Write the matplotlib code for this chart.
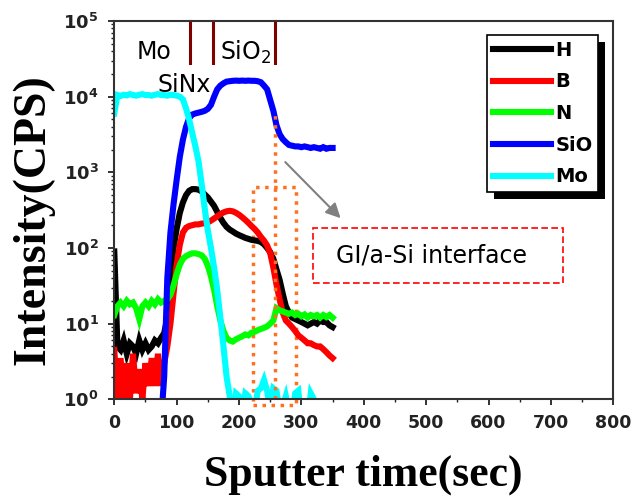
import numpy as np
import matplotlib
matplotlib.use('Agg')
import matplotlib.pyplot as plt
from matplotlib.patches import Rectangle
from matplotlib.ticker import MultipleLocator, NullFormatter
from matplotlib.transforms import IdentityTransform

## sputter time (sec)
t = [0, 5, 10, 15, 20, 25, 30, 35, 40, 45, 50, 55, 60, 65, 70, 75, 80, 85, 90, 95,
     100, 105, 110, 115, 120, 125, 130, 135, 140, 145, 150, 155, 160, 165, 170, 175,
     180, 185, 190, 195, 200, 205, 210, 215, 220, 225, 230, 235, 240, 245, 250, 255,
     260, 265, 270, 275, 280, 285, 290, 295, 300, 305, 310, 315, 320, 325, 330, 335,
     340, 345, 350]

nan = np.nan

## intensity (CPS) per species
H = [90, 5, 4.5, 6, 4, 5.5, 5, 4, 6, 4.5, 5.5, 4.5, 5, 6, 5.5, 6.5, 7.5, 12, 40, 100,
     180, 290, 400, 500, 570, 600, 600, 590, 560, 510, 465, 410, 360, 300, 250, 215,
     190, 175, 165, 155, 148, 142, 136, 132, 128, 126, 124, 120, 112, 100, 88, 72,
     52, 38, 25, 17, 14, 12, 11.5, 11, 10.5, 10, 9.5, 10, 10.5, 10, 11, 10.5,
     10.5, 9.5, 9]

B = [4.5, 1, 3.5, 1, 3, 1, 4, 1.2, 2.5, 1, 3, 1.5, 3.5, 1.5, 4, 1.5, 3, 5, 10, 25,
     60, 110, 160, 185, 195, 200, 205, 205, 210, 212, 218, 230, 245, 262, 280, 295,
     305, 310, 305, 292, 275, 255, 235, 215, 195, 178, 160, 140, 125, 108, 85, 55,
     33, 21, 14, 11, 10, 9, 8, 7, 6.5, 6, 5.5, 5.5, 5.2, 5, 5, 4.6,
     4.2, 3.8, 3.5]

N = [13, 17, 19, 17, 20, 18, 19, 16, 11.5, 17, 19, 17, 20, 18, 21, 19, 20, 21, 24, 32,
     45, 60, 72, 78, 82, 85, 85, 83, 80, 72, 58, 42, 28, 17, 11, 8,
     6.5, 6, 5.8, 6.2, 6.5, 6.8, 7.2, 7, 7.6, 7.8, 8.2, 8.5, 8.8, 9.2, 10, 11,
     16, 15, 14.5, 14, 13.5, 14, 13, 13.5, 12.5, 13.2, 12, 13, 12.5, 13, 12, 13,
     12.2, 13, 12]

SiO = [nan, nan, nan, nan, nan, nan, nan, nan, nan, nan, nan, nan, nan, nan, nan, 0.5,
       2, 40, 160, 380, 800, 1600, 2700, 4000, 5200, 5800, 6000, 6150, 6300, 6500,
       6900, 7800, 10000, 12500, 14000, 15000, 15800, 16000, 16200, 16300, 16200,
       16300, 16200, 16300, 16200, 16200, 16000, 15500, 14000, 12500, 9000, 6500,
       4200, 3200, 2750, 2500, 2300, 2250, 2200, 2200, 2150, 2200, 2150, 2100, 2150,
       2100, 2050, 2150, 2050, 2100, 2100]

Mo = [6000, 10500, 10200, 10600, 10400, 10800, 10500, 10300, 10600, 10800, 10500,
      10500, 10300, 10600, 10800, 10500, 10500, 10300, 10600, 10500, 10300, 10000,
      9200, 7000, 5000, 3300, 2200, 1400, 700, 330, 170, 100, 55, 28, 12, 5,
      2, 1.1, 0.6, 1.2, 1.1, 0.7, 1.2, 1.1, 0.9, 0.7, 1.3, 1.4, 1.8, 1.3, 0.7, 1.4,
      1.3, 0.7, 0.8, 1.1, 0.7, 0.6, 1.2, 1.3, 0.5, 0.4, 0.5, 1.2, 1.0, nan, nan, nan,
      nan, nan, nan]

series = [('H', H, '#000000'), ('B', B, '#ff0000'), ('N', N, '#00ff00'),
          ('SiO', SiO, '#0000ff'), ('Mo', Mo, '#00ffff')]

## layer boundaries and labels
layer_edges = [122, 158, 257]
layer_labels = [('Mo', 63, 3.9e4), ('SiO$_2$', 210, 3.9e4), ('SiNx', 112, 1.42e4)]

## interface window
win_x = [222, 292]
win_y = [0.83, 640]
win_line_x = 257
win_line_y = [1, 6100]

x_ticks = [0, 100, 200, 300, 400, 500, 600, 700, 800]
y_ticks = [1e0, 1e1, 1e2, 1e3, 1e4, 1e5]
y_ticklabels = [r'$\mathbf{10^{%d}}$' % i for i in range(6)]

plt.rcParams['mathtext.fontset'] = 'dejavusans'

fig = plt.figure(figsize=(6.34, 4.98), dpi=100)
axes = fig.add_axes([114.3 / 634, 1 - 399.3 / 498, (613.3 - 114.3) / 634, (399.3 - 21) / 498])

for name, vals, col in series:
    axes.plot(t, vals, color=col, lw=4.4, label=name, solid_joinstyle='miter')

axes.set_yscale('log')
axes.set_xlim(0, 800)
axes.set_ylim(1, 1e5)

axes.set_xticks(x_ticks)
axes.xaxis.set_minor_locator(MultipleLocator(50))
axes.set_xticklabels([str(v) for v in x_ticks])
axes.set_yticks(y_ticks, labels=y_ticklabels)
axes.yaxis.set_minor_formatter(NullFormatter())

for lab in axes.get_xticklabels():
    lab.set_fontweight('bold')
    lab.set_fontsize(12.5)
for lab in axes.get_yticklabels():
    lab.set_fontsize(13)

axes.tick_params(which='major', direction='out', length=4.3, width=1.3, colors='#222222',
                 top=False, right=False)
axes.tick_params(which='minor', direction='out', length=2.5, width=1.0, colors='#222222',
                 top=False, right=False)
axes.tick_params(axis='x', which='major', pad=6)
axes.tick_params(axis='y', which='major', pad=7)
for sp in axes.spines.values():
    sp.set_color('#333333')
    sp.set_linewidth(1.5)

axes.set_xlabel('Sputter time(sec)', family='Liberation Serif', weight='bold', fontsize=31.5)
axes.set_ylabel('Intensity(CPS)', family='Liberation Serif', weight='bold', fontsize=33)
axes.xaxis.set_label_coords(0.498, -0.145)
axes.yaxis.set_label_coords(-0.12, 0.474)

## layer markers at the top
for xe in layer_edges:
    axes.plot([xe, xe], [2.8e4, 1e5], color='#800000', lw=2.2, clip_on=False)
for txt, xx, yy in layer_labels:
    axes.text(xx, yy, txt, fontsize=17, ha='center', va='center')

## orange dotted window
axes.add_patch(Rectangle((win_x[0], win_y[0]), win_x[1] - win_x[0], win_y[1] - win_y[0],
                         fill=False, ec='#ff7020', lw=2.5, ls=(0, (1, 1.6)), clip_on=False))
axes.plot([win_line_x, win_line_x], win_line_y, color='#ff7020', lw=2.5, ls=(0, (1, 1.6)))

## annotation
axes.annotate('', xy=(366, 233), xytext=(271, 1450),
              arrowprops=dict(arrowstyle='-|>', color='#808080', lw=1.5, mutation_scale=22))
axes.add_patch(Rectangle((318, 34), 720 - 318, 182 - 34, fill=False, ec='#ff0000',
                         lw=1.2, ls=(0, (4, 2))))
axes.text(508, 79, 'GI/a-Si interface', fontsize=17, ha='center', va='center')

leg = axes.legend(loc='upper right', bbox_to_anchor=(0.97, 0.963), borderaxespad=0,
                  prop={'weight': 'bold', 'size': 14}, handlelength=3.0, handletextpad=0.2,
                  labelspacing=0.65, borderpad=0.3, fancybox=False, framealpha=1,
                  edgecolor='black')
leg.get_frame().set_linewidth(1.2)
for h in leg.get_lines():
    h.set_linewidth(4.4)

## black drop shadow behind the legend
fig.canvas.draw()
bb = leg.get_frame().get_window_extent()
shadow = Rectangle((bb.x0 + 7, bb.y0 - 7), bb.width, bb.height, transform=IdentityTransform(),
                   fc='black', ec='none', zorder=4.5, clip_on=False)
axes.add_patch(shadow)

fig.savefig('out.png', dpi=100)
